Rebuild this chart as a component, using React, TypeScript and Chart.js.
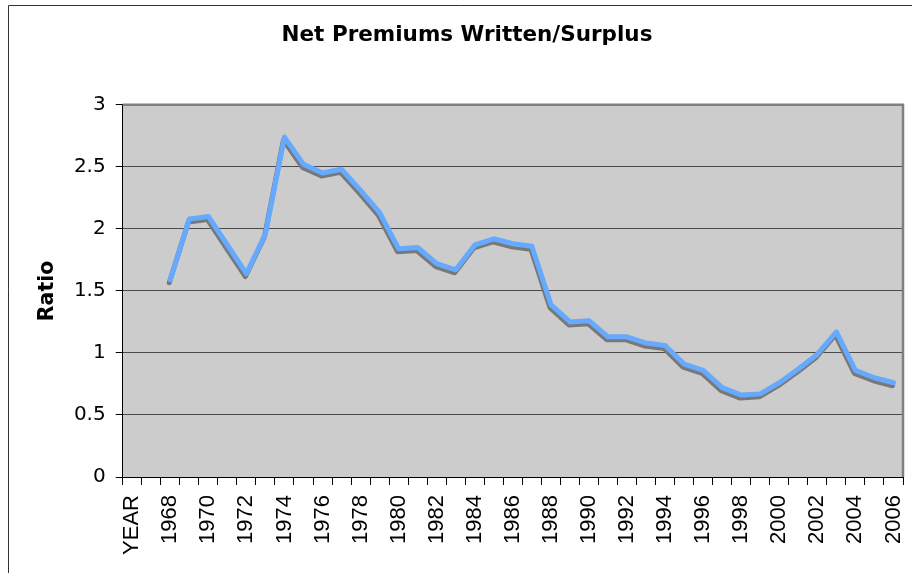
import { useEffect, useRef } from 'react';
import { Chart, registerables } from 'chart.js';

Chart.register(...registerables);

const categories: string[] = [
  'YEAR', '1967', '1968', '1969', '1970', '1971', '1972', '1973', '1974', '1975',
  '1976', '1977', '1978', '1979', '1980', '1981', '1982', '1983', '1984', '1985',
  '1986', '1987', '1988', '1989', '1990', '1991', '1992', '1993', '1994', '1995',
  '1996', '1997', '1998', '1999', '2000', '2001', '2002', '2003', '2004', '2005', '2006',
];

const ratios: (number | null)[] = [
  null, null, 1.59, 2.08, 2.10, 1.87, 1.64, 1.96, 2.74, 2.52,
  2.45, 2.48, 2.31, 2.13, 1.84, 1.85, 1.72, 1.67, 1.87, 1.92,
  1.88, 1.86, 1.39, 1.25, 1.26, 1.13, 1.13, 1.08, 1.06, 0.91,
  0.86, 0.72, 0.66, 0.67, 0.76, 0.87, 0.99, 1.17, 0.86, 0.80, 0.76,
];

const yTicks = { min: 0, max: 3, step: 0.5 };
const titleText = 'Net Premiums Written/Surplus';
const yTitleText = 'Ratio';

const bgPlugin = {
  id: 'bgPlugin',
  beforeDraw(chart: any) {
    const { ctx, chartArea } = chart;
    ctx.save();
    ctx.fillStyle = '#ffffff';
    ctx.fillRect(0, 0, chart.width, chart.height);
    ctx.fillStyle = '#cccccc';
    ctx.fillRect(chartArea.left, chartArea.top, chartArea.right - chartArea.left, chartArea.bottom - chartArea.top);
    ctx.strokeStyle = '#333333';
    ctx.lineWidth = 1;
    ctx.beginPath();
    ctx.moveTo(8.5, chart.height + 5);
    ctx.lineTo(8.5, 5.5);
    ctx.lineTo(chart.width + 5, 5.5);
    ctx.stroke();
    ctx.restore();
  },
  afterDraw(chart: any) {
    const { ctx, chartArea } = chart;
    ctx.save();
    ctx.strokeStyle = '#808080';
    ctx.lineWidth = 2.5;
    ctx.beginPath();
    ctx.moveTo(chartArea.left, chartArea.top);
    ctx.lineTo(chartArea.right, chartArea.top);
    ctx.lineTo(chartArea.right, chartArea.bottom);
    ctx.stroke();
    ctx.restore();
  },
};

const shadowPlugin = {
  id: 'shadowPlugin',
  beforeDatasetDraw(chart: any) {
    const ctx = chart.ctx;
    ctx.save();
    ctx.shadowColor = 'rgba(120,120,120,1)';
    ctx.shadowOffsetX = -1;
    ctx.shadowOffsetY = 3;
    ctx.shadowBlur = 0;
  },
  afterDatasetDraw(chart: any) {
    chart.ctx.restore();
  },
};

export default function App() {
  const ref = useRef<HTMLCanvasElement>(null);
  useEffect(() => {
    const chart = new Chart(ref.current as HTMLCanvasElement, {
      type: 'line',
      data: {
        labels: categories,
        datasets: [
          {
            data: ratios,
            borderColor: '#66aaff',
            borderWidth: 5,
            pointRadius: 0,
            tension: 0,
            borderJoinStyle: 'round',
            borderCapStyle: 'round',
            fill: false,
          },
        ],
      },
      options: {
        animation: false,
        responsive: false,
        maintainAspectRatio: false,
        devicePixelRatio: 1,
        layout: { padding: { left: 31, right: 9, top: 0, bottom: 0 } },
        plugins: {
          legend: { display: false },
          tooltip: { enabled: false },
          title: {
            display: true,
            text: titleText,
            color: '#000',
            font: { family: 'DejaVu Sans', size: 21.5, weight: 'bold' },
            padding: { top: 23, bottom: 56 },
          },
        },
        scales: {
          x: {
            offset: true,
            grid: { offset: true, drawOnChartArea: false, drawTicks: true, tickLength: 8, tickColor: '#000' },
            border: { color: '#000', width: 1 },
            ticks: {
              autoSkip: false,
              maxRotation: 90,
              minRotation: 90,
              padding: 10,
              color: '#000',
              font: { family: 'Liberation Sans', size: 22 },
              callback: (_v: any, i: number) => (i % 2 === 0 ? categories[i] : ''),
            },
            afterFit: (s: any) => {
              s.height = 96;
              s.paddingRight = 0;
              s.paddingLeft = 0;
            },
          },
          y: {
            min: yTicks.min,
            max: yTicks.max,
            ticks: {
              stepSize: yTicks.step,
              padding: 10,
              color: '#000',
              font: { family: 'DejaVu Sans', size: 20 },
              callback: (v: any) => String(Number(v)),
            },
            grid: { color: '#4a4a4a', lineWidth: 1, tickLength: 7, tickColor: '#000' },
            border: { color: '#000', width: 1 },
            title: {
              display: true,
              text: yTitleText,
              color: '#000',
              font: { family: 'DejaVu Sans', size: 20.5, weight: 'bold' },
              padding: { top: 4, bottom: 0 },
            },
            afterFit: (s: any) => {
              s.width = 91.7;
            },
          },
        },
      },
      plugins: [bgPlugin, shadowPlugin],
    } as any);
    return () => chart.destroy();
  }, []);
  return (
    <div style={{ position: 'absolute', left: 0, top: 0, width: 912, height: 573 }}>
      <canvas ref={ref} width={912} height={573} style={{ display: 'block' }} />
    </div>
  );
}
